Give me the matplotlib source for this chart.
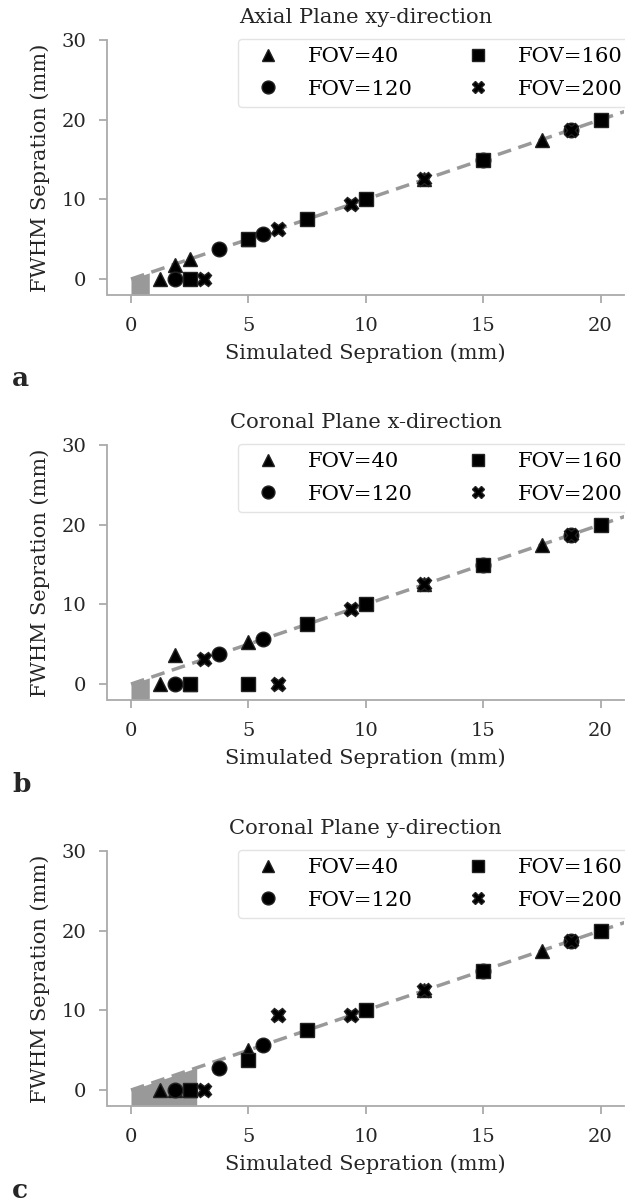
import matplotlib
matplotlib.use("Agg")
import matplotlib.pyplot as plt
import numpy as np

plt.rcParams['font.family'] = ['DejaVu Serif']

# ---- data ----
titles = ["Axial Plane xy-direction", "Coronal Plane x-direction", "Coronal Plane y-direction"]
panel_tags = ["a", "b", "c"]
fov_labels = ["FOV=40", "FOV=120", "FOV=160", "FOV=200"]
fov_markers = ["^", "o", "s", "X"]

sep_40 = [1.25, 1.875, 2.5, 5.0, 12.5, 17.5]
sep_120 = [1.875, 3.75, 5.625, 15.0, 18.75]
sep_160 = [2.5, 5.0, 7.5, 10.0, 15.0, 20.0]
sep_200 = [3.125, 6.25, 9.375, 12.5, 18.75]

# FWHM separations per panel
a_40 = [0.0, 1.8, 2.5, 5.0, 12.5, 17.5]
a_120 = [0.0, 3.75, 5.625, 15.0, 18.75]
a_160 = [0.0, 5.0, 7.5, 10.0, 15.0, 20.0]
a_200 = [0.0, 6.25, 9.375, 12.5, 18.75]

b_40 = [0.0, 3.7, 0.0, 5.3, 12.5, 17.5]
b_120 = [0.0, 3.75, 5.625, 15.0, 18.75]
b_160 = [0.0, 0.0, 7.5, 10.0, 15.0, 20.0]
b_200 = [3.1, 0.0, 9.375, 12.5, 18.75]

c_40 = [0.0, 0.0, 0.0, 5.0, 12.5, 17.5]
c_120 = [0.0, 2.8, 5.625, 15.0, 18.75]
c_160 = [0.0, 3.8, 7.5, 10.0, 15.0, 20.0]
c_200 = [0.0, 9.375, 9.375, 12.5, 18.75]

# resolution limit (shaded region)
limits = [0.78, 0.78, 2.8]

seps = [sep_40, sep_120, sep_160, sep_200]
panels = [[a_40, a_120, a_160, a_200],
          [b_40, b_120, b_160, b_200],
          [c_40, c_120, c_160, c_200]]

fig = plt.figure(figsize=(6.25, 12.02), dpi=100)
W, H = 625.0, 1202.0
tops = [40, 445, 851]
ax_h = 255
left_px = 107.5
right_px = 624

spine_col = '#aaaaaa'
txt_col = '#262626'
for i in range(3):
    top = tops[i]
    ax = fig.add_axes([left_px / W, 1 - (top + ax_h) / H, (right_px - left_px) / W, ax_h / H])
    xlim = (-1.0, 21.0)
    ylim = (-2.0, 30.0)
    xs = np.linspace(0, limits[i], 50)
    ax.fill_between(xs, ylim[0], xs, color='#999999', lw=0, zorder=1)
    xl = np.array([0, 21.5])
    ax.plot(xl, xl, ls=(0, (4.0, 2.2)), color='#999999', lw=2.5, zorder=2)
    for k in range(4):
        ax.plot(seps[k], panels[i][k], ls='none', marker=fov_markers[k], ms=10.5,
                color='black', mec='#222222', mew=1.0, label=fov_labels[k], zorder=3)
    ax.set_xlim(*xlim)
    ax.set_ylim(*ylim)
    ax.set_xticks([0, 5, 10, 15, 20])
    ax.set_yticks([0, 10, 20, 30])
    for s in ['top', 'right']:
        ax.spines[s].set_visible(False)
    for s in ['left', 'bottom']:
        ax.spines[s].set_color(spine_col)
        ax.spines[s].set_linewidth(1.3)
    ax.tick_params(axis='both', colors=spine_col, labelcolor=txt_col, labelsize=14,
                   length=6, width=1.3, pad=9.5)
    ax.set_xlabel("Simulated Sepration (mm)", fontsize=15, color=txt_col, labelpad=6)
    ax.set_ylabel("FWHM Sepration (mm)", fontsize=15, color=txt_col, labelpad=8)
    ax.set_title(titles[i], fontsize=15.2, color=txt_col, pad=12)
    leg = ax.legend(loc='upper left', ncol=2, fontsize=15.2, markerscale=0.88,
                    frameon=True, borderaxespad=0.0, handletextpad=0.9,
                    columnspacing=2.1, labelspacing=0.62,
                    bbox_to_anchor=((238 - left_px) / (right_px - left_px), 1.004))
    leg.get_frame().set_edgecolor('#dddddd')
    fig.text(12 / W, 1 - (top + ax_h + 84) / H, panel_tags[i], fontsize=19,
             fontweight='bold', color=txt_col, va='center')

fig.savefig("out.png", dpi=100)
